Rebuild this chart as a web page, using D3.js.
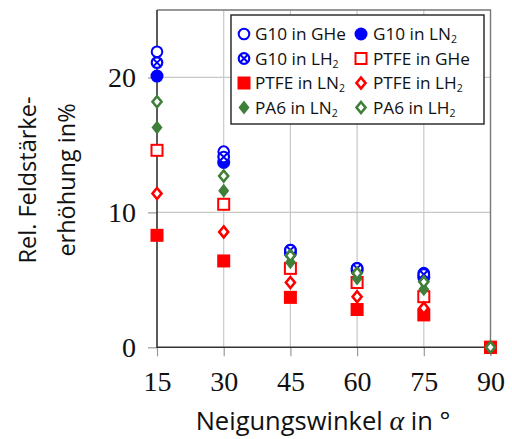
<!DOCTYPE html>
<html>
<head>
<meta charset="utf-8">
<script src="https://cdn.jsdelivr.net/npm/d3@7"></script>
<style>
  body { margin: 0; background: #fff; }
  svg text { fill: #111; }
</style>
</head>
<body>
<div id="chart"></div>
<script>
// angles (x) and series values (y in %)
const angles = [15, 30, 45, 60, 75, 90];
const xTicks = [15, 30, 45, 60, 75, 90];
const yTicks = [0, 10, 20];

const g10GHe  = [21.9, 14.5, 7.2, 5.85, 5.5, 0];
const g10LN2  = [20.1, 13.7, 7.0, 5.7, 5.2, 0];
const g10LH2  = [21.1, 14.1, 7.2, 5.85, 5.4, 0];
const ptfeGHe = [14.6, 10.6, 5.85, 4.8, 3.75, 0];
const ptfeLN2 = [8.3, 6.4, 3.7, 2.8, 2.4, 0];
const ptfeLH2 = [11.4, 8.55, 4.8, 3.75, 2.9, 0];
const pa6LN2  = [16.3, 11.6, 6.3, 5.1, 4.3, 0];
const pa6LH2  = [18.2, 12.7, 6.8, 5.5, 4.85, 0];

const blue = "#0000ff", red = "#ff0000", green = "#3f7f3a";

const series = [
  { name: "G10 in GHe", sub: null, values: g10GHe, mark: "ocircle", color: blue },
  { name: "G10 in LN", sub: "2", values: g10LN2, mark: "circle", color: blue },
  { name: "G10 in LH", sub: "2", values: g10LH2, mark: "xcircle", color: blue },
  { name: "PTFE in GHe", sub: null, values: ptfeGHe, mark: "osquare", color: red },
  { name: "PTFE in LN", sub: "2", values: ptfeLN2, mark: "square", color: red },
  { name: "PTFE in LH", sub: "2", values: ptfeLH2, mark: "odiamond", color: red },
  { name: "PA6 in LN", sub: "2", values: pa6LN2, mark: "diamond", color: green },
  { name: "PA6 in LH", sub: "2", values: pa6LH2, mark: "odiamond", color: green }
];

const W = 512, H = 439;
const pLeft = 157, pRight = 490.5, pTop = 10, pBottom = 347.3;

const svg = d3.select("#chart").append("svg")
  .attr("width", W).attr("height", H);

const x = d3.scaleLinear().domain([15, 90]).range([pLeft, pRight]);
const y = d3.scaleLinear().domain([0, 25]).range([pBottom, pTop]);

// grid
svg.append("g").selectAll("line").data(xTicks.slice(1, -1)).enter().append("line")
  .attr("x1", d => x(d)).attr("x2", d => x(d)).attr("y1", pTop).attr("y2", pBottom)
  .attr("stroke", "#c8c8c8").attr("stroke-width", 1.2);
svg.append("g").selectAll("line").data(yTicks.slice(1)).enter().append("line")
  .attr("x1", pLeft).attr("x2", pRight).attr("y1", d => y(d)).attr("y2", d => y(d))
  .attr("stroke", "#c8c8c8").attr("stroke-width", 1.2);

// axes
const xAxis = svg.append("g").attr("transform", `translate(0,${pBottom})`)
  .call(d3.axisBottom(x).tickValues(xTicks).tickSize(9).tickPadding(8));
const yAxis = svg.append("g").attr("transform", `translate(${pLeft},0)`)
  .call(d3.axisLeft(y).tickValues(yTicks).tickSize(9).tickPadding(12));
[xAxis, yAxis].forEach(a => {
  a.select(".domain").remove();
  a.selectAll(".tick line").attr("stroke", "#999").attr("stroke-width", 1.2);
  a.selectAll("text").attr("font-family", "Liberation Serif, serif")
    .attr("font-size", 28).attr("fill", "#111");
});
xAxis.selectAll("text").attr("dy", "0.95em");
yAxis.selectAll("text").attr("dy", "0.33em");

// frame
svg.append("path").attr("d", `M${pLeft},${pTop}H${pRight}V${pBottom}`)
  .attr("fill", "none").attr("stroke", "#777").attr("stroke-width", 1.4);
svg.append("path").attr("d", `M${pLeft},${pTop}V${pBottom}H${pRight}`)
  .attr("fill", "none").attr("stroke", "#333").attr("stroke-width", 1.6);

function drawMark(g, mark, color) {
  if (mark === "ocircle") {
    g.append("circle").attr("r", 5.3).attr("fill", "#fff").attr("stroke", color).attr("stroke-width", 2);
  } else if (mark === "circle") {
    g.append("circle").attr("r", 6.5).attr("fill", color);
  } else if (mark === "xcircle") {
    g.append("circle").attr("r", 5.3).attr("fill", "#fff").attr("stroke", color).attr("stroke-width", 2.2);
    g.append("path").attr("d", "M-3.5,-3.5L3.5,3.5M-3.5,3.5L3.5,-3.5")
      .attr("stroke", color).attr("stroke-width", 2);
  } else if (mark === "osquare") {
    g.append("rect").attr("x", -5.5).attr("y", -5.5).attr("width", 11).attr("height", 11)
      .attr("fill", "#fff").attr("stroke", color).attr("stroke-width", 2);
  } else if (mark === "square") {
    g.append("rect").attr("x", -6.5).attr("y", -6.5).attr("width", 13).attr("height", 13)
      .attr("fill", color);
  } else if (mark === "odiamond") {
    g.append("path").attr("d", "M0,-5.5L4.5,0L0,5.5L-4.5,0Z")
      .attr("fill", "#fff").attr("stroke", color).attr("stroke-width", 2.6);
  } else if (mark === "diamond") {
    g.append("path").attr("d", "M0,-7L5.5,0L0,7L-5.5,0Z").attr("fill", color);
  }
}

// points
series.forEach(s => {
  svg.append("g").selectAll("g").data(angles.map((a, i) => [a, s.values[i]])).enter()
    .append("g")
    .attr("transform", d => `translate(${x(d[0])},${y(d[1])})`)
    .each(function () { drawMark(d3.select(this), s.mark, s.color); });
});

// legend
const leg = svg.append("g");
leg.append("rect").attr("x", 231).attr("y", 15).attr("width", 253).attr("height", 109)
  .attr("fill", "#fff").attr("stroke", "#222").attr("stroke-width", 1.4);
const colX = [244, 361];
const rowY = [34, 58.5, 83, 107.5];
series.forEach((s, i) => {
  const cx = colX[i % 2], cy = rowY[Math.floor(i / 2)];
  const g = leg.append("g").attr("transform", `translate(${cx},${cy})`);
  drawMark(g, s.mark, s.color);
  const t = leg.append("text").attr("x", cx + (i % 2 ? 12 : 11)).attr("y", cy + 6)
    .attr("font-family", "Open Sans, sans-serif").attr("font-size", 17.2);
  t.append("tspan").text(s.name);
  if (s.sub) t.append("tspan").attr("font-size", 10.5).attr("dy", 3).text(s.sub);
});

// axis labels
const xl = svg.append("text").attr("x", 323).attr("y", 430).attr("text-anchor", "middle")
  .attr("font-family", "Open Sans, sans-serif").attr("font-size", 25.5);
xl.append("tspan").text("Neigungswinkel ");
xl.append("tspan").attr("font-family", "Liberation Serif, serif").attr("font-style", "italic")
  .attr("font-size", 28).text("α");
xl.append("tspan").text(" in °");

const yl = svg.append("text").attr("transform", "translate(0,180) rotate(-90)")
  .attr("text-anchor", "middle").attr("font-family", "Open Sans, sans-serif").attr("font-size", 23.5);
yl.append("tspan").attr("x", 0).attr("y", 36).text("Rel. Feldstärke-");
yl.append("tspan").attr("x", 0).attr("y", 75).text("erhöhung in%");
</script>
</body>
</html>
